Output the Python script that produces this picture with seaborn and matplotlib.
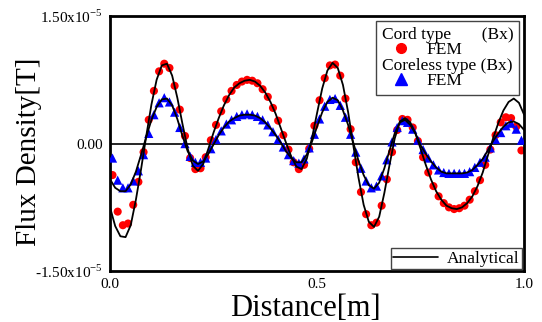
import numpy as np
import matplotlib
matplotlib.use("Agg")
import matplotlib.pyplot as plt
import seaborn as sns
from matplotlib.lines import Line2D

# analytical curves, sampled every 0.0125 m (values in 1e-5 T)
x_analytical = np.linspace(0.0, 1.0, 81)
cord_analytical = [
    -0.75, -0.97, -1.09, -1.10, -0.96, -0.66, -0.30, 0.09, 0.46, 0.75,
    0.92, 0.94, 0.80, 0.54, 0.23, -0.06, -0.26, -0.32, -0.24, -0.06,
    0.13, 0.30, 0.45, 0.57, 0.66, 0.71, 0.74, 0.75, 0.73, 0.68,
    0.60, 0.49, 0.35, 0.18, 0.01, -0.15, -0.27, -0.30, -0.18, 0.06,
    0.36, 0.65, 0.86, 0.95, 0.89, 0.69, 0.37, -0.02, -0.40, -0.72,
    -0.92, -0.98, -0.86, -0.58, -0.25, 0.06, 0.26, 0.30, 0.25, 0.12,
    -0.06, -0.25, -0.42, -0.56, -0.66, -0.73, -0.76, -0.77, -0.75, -0.70,
    -0.62, -0.50, -0.34, -0.14, 0.06, 0.24, 0.39, 0.49, 0.53, 0.48,
    0.34]
coreless_analytical = [
    -0.42, -0.52, -0.56, -0.56, -0.48, -0.33, -0.13, 0.08, 0.28, 0.43,
    0.52, 0.53, 0.45, 0.29, 0.09, -0.09, -0.20, -0.24, -0.21, -0.12,
    -0.01, 0.10, 0.19, 0.26, 0.30, 0.33, 0.34, 0.34, 0.33, 0.30,
    0.25, 0.18, 0.10, 0.01, -0.09, -0.17, -0.22, -0.22, -0.13, 0.02,
    0.20, 0.37, 0.49, 0.54, 0.51, 0.39, 0.22, 0.01, -0.20, -0.37,
    -0.49, -0.53, -0.46, -0.29, -0.08, 0.12, 0.25, 0.28, 0.22, 0.12,
    -0.02, -0.12, -0.21, -0.28, -0.33, -0.35, -0.35, -0.35, -0.35, -0.34,
    -0.31, -0.25, -0.18, -0.08, 0.03, 0.12, 0.20, 0.25, 0.26, 0.23,
    0.16]

# FEM samples (values in 1e-5 T)
x_fem = np.linspace(0.006, 0.9935, 80)
cord_fem = [
    -0.37, -0.80, -0.96, -0.94, -0.72, -0.45, -0.10, 0.28, 0.62, 0.85,
    0.94, 0.89, 0.68, 0.40, 0.09, -0.17, -0.30, -0.29, -0.16, 0.04,
    0.22, 0.38, 0.52, 0.62, 0.69, 0.73, 0.75, 0.74, 0.71, 0.64,
    0.55, 0.42, 0.27, 0.10, -0.07, -0.22, -0.30, -0.25, -0.06, 0.21,
    0.51, 0.77, 0.92, 0.93, 0.80, 0.53, 0.17, -0.22, -0.57, -0.83,
    -0.96, -0.93, -0.73, -0.42, -0.10, 0.16, 0.29, 0.28, 0.19, 0.03,
    -0.16, -0.34, -0.50, -0.62, -0.70, -0.75, -0.77, -0.76, -0.73, -0.66,
    -0.56, -0.43, -0.25, -0.07, 0.10, 0.25, 0.31, 0.30, 0.20, -0.08]
coreless_fem = [
    -0.17, -0.43, -0.52, -0.52, -0.44, -0.32, -0.13, 0.12, 0.34, 0.48,
    0.54, 0.49, 0.37, 0.19, 0.00, -0.15, -0.22, -0.22, -0.17, -0.06,
    0.05, 0.15, 0.23, 0.28, 0.32, 0.34, 0.35, 0.34, 0.32, 0.28,
    0.22, 0.14, 0.05, -0.04, -0.13, -0.20, -0.23, -0.18, -0.05, 0.11,
    0.29, 0.44, 0.52, 0.53, 0.45, 0.31, 0.11, -0.10, -0.29, -0.44,
    -0.52, -0.50, -0.38, -0.19, 0.02, 0.19, 0.27, 0.25, 0.17, 0.04,
    -0.07, -0.17, -0.25, -0.31, -0.34, -0.35, -0.35, -0.35, -0.35, -0.33,
    -0.28, -0.22, -0.16, -0.05, 0.05, 0.13, 0.21, 0.24, 0.17, 0.04]

x_ticks = [0.0, 0.5, 1.0]
x_ticklabels = ["0.0", "0.5", "1.0"]
y_ticks = [-1.5e-5, 0.0, 1.5e-5]
y_ticklabels = [r"-1.50x10$^{\mathregular{-5}}$", "0.00", r"1.50x10$^{\mathregular{-5}}$"]

scale = 1e-5

sns.set_theme(style="white")
plt.rcParams["font.family"] = ["Liberation Serif", "DejaVu Serif"]
plt.rcParams["mathtext.fontset"] = "custom"
plt.rcParams["mathtext.rm"] = "Liberation Serif"
plt.rcParams["text.color"] = "black"
plt.rcParams["axes.labelcolor"] = "black"

fig = plt.figure(figsize=(5.42, 3.22), dpi=100)
ax = fig.add_axes([0.203, 0.158, 0.764, 0.792])

ax.axhline(0, color="black", lw=1.2, zorder=1)
sns.scatterplot(x=x_fem, y=np.array(cord_fem) * scale, color="#ff0000", marker="o",
                s=34, edgecolor="none", ax=ax, legend=False, zorder=2)
sns.scatterplot(x=x_fem, y=np.array(coreless_fem) * scale, color="#0000ff", marker="^",
                s=44, edgecolor="none", ax=ax, legend=False, zorder=3)
sns.lineplot(x=x_analytical, y=np.array(cord_analytical) * scale, color="black",
             lw=1.3, ax=ax, legend=False, zorder=4)
sns.lineplot(x=x_analytical, y=np.array(coreless_analytical) * scale, color="black",
             lw=1.3, ax=ax, legend=False, zorder=4)

ax.set_xlim(0, 1.0)
ax.set_ylim(-1.5e-5, 1.5e-5)
ax.set_xticks(x_ticks)
ax.set_xticklabels(x_ticklabels)
ax.set_yticks(y_ticks)
ax.set_yticklabels(y_ticklabels)
ax.tick_params(length=0, labelsize=11, colors="black", pad=5)
for sp in ax.spines.values():
    sp.set_color("black")
    sp.set_linewidth(2)

ax.set_xlabel("Distance[m]", fontsize=22, va="top")
ax.xaxis.set_label_coords(0.471, -0.088)
ax.set_ylabel("Flux Density[T]", fontsize=21)
ax.yaxis.set_label_coords(-0.164, 0.467)

# FEM legend with group headers
blank = Line2D([], [], linestyle="none")
h_cord = Line2D([], [], linestyle="none", marker="o", color="#ff0000", markersize=7)
h_core = Line2D([], [], linestyle="none", marker="^", color="#0000ff", markersize=8)
leg1 = ax.legend([blank, h_cord, blank, h_core],
                 ["Cord type       (Bx)", "FEM", "Coreless type (Bx)", "FEM"],
                 loc="upper right", fontsize=12.5, frameon=True, fancybox=False,
                 edgecolor="#444444", framealpha=1, borderaxespad=0.27,
                 labelspacing=-0.05, handlelength=2.2, handletextpad=0.35, borderpad=0.35)
leg1.get_frame().set_linewidth(1)
col = leg1._legend_handle_box.get_children()[0]
for row in col.get_children():
    handle_area, text_area = row.get_children()
    if "(Bx)" in text_area.get_text():
        handle_area.width = 0
        row.sep = 0
ax.add_artist(leg1)

h_line = Line2D([], [], color="black", lw=1.2)
leg2 = ax.legend([h_line], ["Analytical"], loc="lower right", fontsize=12.5,
                 frameon=True, fancybox=False, edgecolor="#444444", framealpha=1,
                 borderaxespad=0.1, handlelength=2.6, handletextpad=0.5, borderpad=0.15)
leg2.get_frame().set_linewidth(1)

fig.savefig("out.png", dpi=100)
